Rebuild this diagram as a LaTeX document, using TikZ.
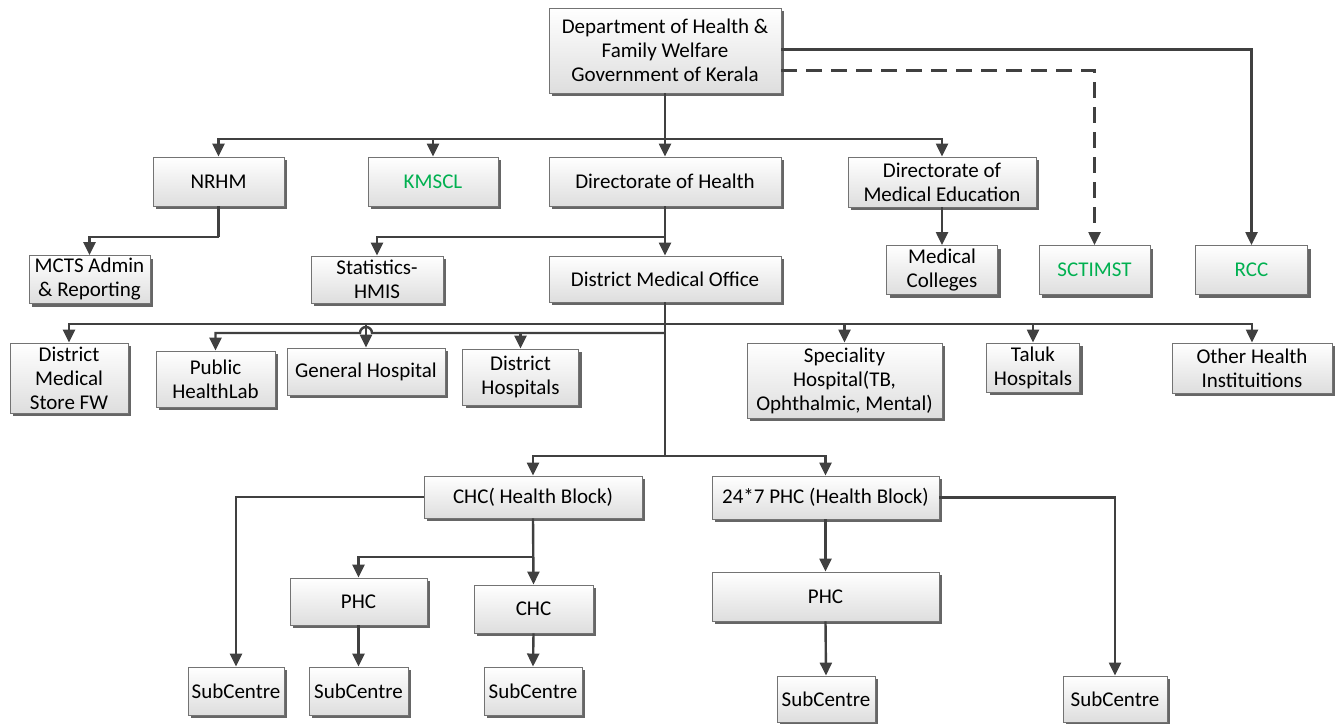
\documentclass[tikz,border=0pt]{standalone}
\usepackage{fontspec}
\setmainfont{Carlito}
\usetikzlibrary{arrows.meta,shadows,calc}
\definecolor{lc}{HTML}{404040}
\definecolor{gtxt}{HTML}{00B050}
\tikzset{
  box/.style={draw=black!55, line width=0.9pt, top color=white, bottom color=black!13,
    drop shadow={shadow xshift=3pt, shadow yshift=-3pt, fill=black!60, opacity=1},
    inner sep=1pt, align=center, font=\fontsize{21}{24}\selectfont, anchor=center},
  arr/.style={draw=lc, line width=2.4pt, -{Triangle[width=12pt,length=13pt]}},
  ln/.style={draw=lc, line width=2.4pt},
}
\begin{document}
\begin{tikzpicture}[x=1pt,y=-1pt]
\useasboundingbox (0,0) rectangle (1343,723);
% row 1
\node[box, minimum width=232, minimum height=85] (dept) at (665,50.5) {Department of Health \&\\Family Welfare\\Government of Kerala};
% row 2
\node[box, minimum width=131, minimum height=49] (nrhm) at (218.5,181.5) {NRHM};
\node[box, minimum width=130, minimum height=49, text=gtxt] (kmscl) at (433,181.5) {KMSCL};
\node[box, minimum width=232, minimum height=49] (dirh) at (665,181.5) {Directorate of Health};
\node[box, minimum width=188, minimum height=50] (dme) at (942,182) {Directorate of\\Medical Education};
% row 3
\node[box, minimum width=121, minimum height=48] (mcts) at (89.5,279.5) {MCTS Admin\\\& Reporting};
\node[box, minimum width=132, minimum height=47] (stats) at (377,279.5) {Statistics-\\HMIS};
\node[box, minimum width=232, minimum height=46] (dmo) at (665,279) {District Medical Office};
\node[box, minimum width=111, minimum height=49] (medcol) at (942,270) {Medical\\Colleges};
\node[box, minimum width=111, minimum height=49, text=gtxt] (sct) at (1094.5,270) {SCTIMST};
\node[box, minimum width=112, minimum height=49, text=gtxt] (rcc) at (1251.5,270) {RCC};
% row 4
\node[box, minimum width=118, minimum height=70] (dms) at (69,378) {District\\Medical\\Store FW};
\node[box, minimum width=119, minimum height=56] (phl) at (215.5,379) {Public\\HealthLab};
\node[box, minimum width=158, minimum height=47] (gh) at (366,371.5) {General Hospital};
\node[box, minimum width=116, minimum height=56] (dh) at (520.5,377) {District\\Hospitals};
\node[box, minimum width=195, minimum height=75] (spec) at (844.5,380.5) {Speciality\\Hospital(TB,\\Ophthalmic, Mental)};
\node[box, minimum width=93, minimum height=49] (taluk) at (1033,367.5) {Taluk\\Hospitals};
\node[box, minimum width=160, minimum height=50] (other) at (1252,368) {Other Health\\Instituitions};
% row 5
\node[box, minimum width=218, minimum height=42] (chc) at (533,497) {CHC( Health Block)};
\node[box, minimum width=227, minimum height=43] (phcb) at (825.5,497.5) {24*7 PHC (Health Block)};
% row 6
\node[box, minimum width=137, minimum height=47] (phcl) at (358.5,601.5) {PHC};
\node[box, minimum width=119, minimum height=48] (chc2) at (533.5,609) {CHC};
\node[box, minimum width=227, minimum height=49] (phcr) at (825.5,596.5) {PHC};
% row 7
\node[box, minimum width=96, minimum height=48] (sc1) at (236,691) {SubCentre};
\node[box, minimum width=99, minimum height=48] (sc2) at (358.5,691) {SubCentre};
\node[box, minimum width=98, minimum height=48] (sc3) at (533,691) {SubCentre};
\node[box, minimum width=98, minimum height=46] (sc4) at (826,699) {SubCentre};
\node[box, minimum width=104, minimum height=46] (sc5) at (1115,699) {SubCentre};
% junctions
\coordinate (j1) at (665,139);
\coordinate (jn) at (218.5,237);
\coordinate (js) at (665,237);
\coordinate (ju) at (665,324);
\coordinate (jl) at (665,333);
\coordinate (jm) at (665,456);
\coordinate (jc) at (533,557);
% connectors
\draw[arr] (dept.south) -- (dirh.north);
\draw[arr] (j1) -| (nrhm.north);
\draw[arr] (j1) -| (kmscl.north);
\draw[arr] (j1) -| (dme.north);
\draw[arr] ([yshift=1pt]dept.east) -| (rcc.north);
\draw[arr, dash pattern=on 16pt off 9pt] ([yshift=-20pt]dept.east) -| (sct.north);
\draw[ln] (nrhm.south) -- (jn);
\draw[arr] (jn) -| (mcts.north);
\draw[arr] (dirh.south) -- (dmo.north);
\draw[arr] (js) -| (stats.north);
\draw[arr] (dme.south) -- (medcol.north);
\draw[ln] (dmo.south) -- (jm);
\draw[arr] (ju) -| (dms.north);
\draw[arr] (ju) -| (gh.north);
\draw[arr] (ju) -| (spec.north);
\draw[arr] (ju) -| (taluk.north);
\draw[arr] (ju) -| (other.north);
\draw[arr] (jl) -- (372,333) arc (0:-180:6) -| (phl.north);
\draw[arr] (jl) -| (dh.north);
\draw[arr] (jm) -| (chc.north);
\draw[arr] (jm) -| (phcb.north);
\draw[arr] (chc.west) -| (sc1.north);
\draw[arr] (chc.south) -- (chc2.north);
\draw[arr] (jc) -| (phcl.north);
\draw[arr] (phcl.south) -- (sc2.north);
\draw[arr] (chc2.south) -- (sc3.north);
\draw[arr] (phcb.south) -- (phcr.north);
\draw[arr] (phcr.south) -- (sc4.north);
\draw[arr] (phcb.east) -| (sc5.north);
\end{tikzpicture}
\end{document}
